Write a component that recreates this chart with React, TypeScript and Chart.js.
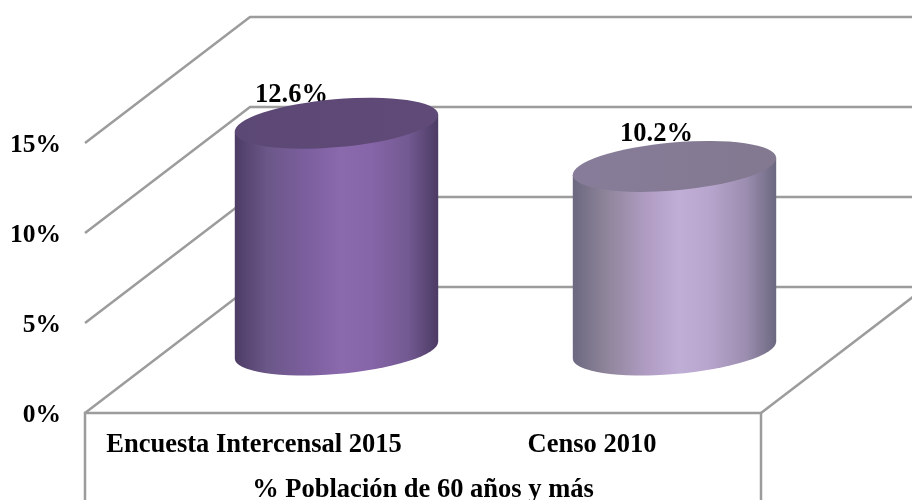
import React, { useEffect, useRef } from "react";
import { Chart, registerables } from "chart.js";

Chart.register(...registerables);

const categories = ["Encuesta Intercensal 2015", "Censo 2010"];
const values = [12.6, 10.2];
const axisTitle = "% Población de 60 años y más";
const yTicksMax = 15;
const yStep = 5;

const bodyStops = [
  ["#4d3c66", "#6b5788", "#7c5f9f", "#8a69ac", "#8765a9", "#735a92", "#4c3b64"],
  ["#6b6880", "#8e8499", "#b09cc3", "#bfaed6", "#b9a6cf", "#9c8eb0", "#6c6880"],
];
const stopPos = [0, 0.16, 0.36, 0.52, 0.66, 0.85, 1];
const topFill = [
  ["#5c4875", "#604a78"],
  ["#877d9a", "#82788f"],
];

const labelShiftX = [-45, -18];
const labelShiftY = [-28, -32];

const FONT = "'Liberation Serif', 'Times New Roman', serif";
const GRID = "#9c9c9c";
const DEPTH_X = 165;
const DEPTH_Y = 126;
const TILT = (-5 * Math.PI) / 180;
const MINOR = 24;

const scene = {
  id: "scene3d",
  beforeDatasetsDraw(chart: any) {
    const { ctx, chartArea, scales, width, height } = chart;
    const yS = scales.y;
    ctx.save();
    ctx.strokeStyle = GRID;
    ctx.lineWidth = 2.5;
    ctx.lineJoin = "miter";
    yS.ticks.forEach((t: any) => {
      const y = yS.getPixelForValue(t.value);
      ctx.beginPath();
      ctx.moveTo(chartArea.left, y);
      ctx.lineTo(chartArea.left + DEPTH_X, y - DEPTH_Y);
      ctx.lineTo(width + 2, y - DEPTH_Y);
      ctx.stroke();
    });
    const b = chartArea.bottom;
    ctx.beginPath();
    ctx.moveTo(chartArea.left, height + 2);
    ctx.lineTo(chartArea.left, b);
    ctx.lineTo(chartArea.right, b);
    ctx.lineTo(chartArea.right, height + 2);
    ctx.stroke();
    ctx.beginPath();
    ctx.moveTo(chartArea.right, b);
    ctx.lineTo(chartArea.right + DEPTH_X, b - DEPTH_Y);
    ctx.stroke();
    ctx.restore();
  },
  afterDatasetsDraw(chart: any) {
    const { ctx } = chart;
    const meta = chart.getDatasetMeta(0);
    meta.data.forEach((el: any, i: number) => {
      const props = el.getProps(["x", "y", "base", "width"], true);
      const cx = props.x + DEPTH_X / 2;
      const top = props.y - DEPTH_Y / 2;
      const base = props.base - DEPTH_Y / 2;
      const a = props.width / 2;
      const t0 = Math.atan((-MINOR / a) * Math.tan(TILT));
      const ex = a * Math.cos(t0) * Math.cos(TILT) - MINOR * Math.sin(t0) * Math.sin(TILT);
      const ey = a * Math.cos(t0) * Math.sin(TILT) + MINOR * Math.sin(t0) * Math.cos(TILT);

      ctx.save();
      ctx.font = `bold 26.5px ${FONT}`;
      ctx.fillStyle = "#000";
      ctx.textAlign = "center";
      ctx.textBaseline = "middle";
      ctx.fillText(values[i].toFixed(1) + "%", cx + labelShiftX[i], top + labelShiftY[i]);

      const grad = ctx.createLinearGradient(cx - ex, 0, cx + ex, 0);
      bodyStops[i].forEach((c, k) => grad.addColorStop(stopPos[k], c));
      ctx.fillStyle = grad;
      ctx.beginPath();
      ctx.moveTo(cx - ex, top - ey);
      ctx.lineTo(cx - ex, base - ey);
      ctx.ellipse(cx, base, a, MINOR, TILT, t0 + Math.PI, t0, true);
      ctx.lineTo(cx + ex, top + ey);
      ctx.closePath();
      ctx.fill();

      const tg = ctx.createLinearGradient(cx - ex, 0, cx + ex, 0);
      tg.addColorStop(0, topFill[i][0]);
      tg.addColorStop(1, topFill[i][1]);
      ctx.fillStyle = tg;
      ctx.beginPath();
      ctx.ellipse(cx, top, a, MINOR, TILT, 0, Math.PI * 2);
      ctx.fill();
      ctx.restore();
    });
  },
};

export default function App() {
  const ref = useRef<HTMLCanvasElement | null>(null);
  useEffect(() => {
    document.body.style.margin = "0";
    const chart = new Chart(ref.current as HTMLCanvasElement, {
      type: "bar",
      data: {
        labels: categories,
        datasets: [
          {
            data: values,
            backgroundColor: "rgba(0,0,0,0)",
            borderWidth: 0,
            categoryPercentage: 1,
            barPercentage: 0.604,
          },
        ],
      },
      options: {
        responsive: false,
        animation: false,
        events: [],
        layout: { padding: { top: 143, right: 151, left: 0, bottom: 0 } },
        plugins: { legend: { display: false }, tooltip: { enabled: false } },
        scales: {
          x: {
            afterFit: (s: any) => {
              s.height = 87;
            },
            grid: { display: false },
            border: { display: false },
            ticks: {
              padding: 8,
              color: "#000",
              maxRotation: 0,
              autoSkip: false,
              font: { family: FONT, size: 26.5, weight: "bold" },
            },
            title: {
              display: true,
              text: axisTitle,
              color: "#000",
              padding: { top: 0, bottom: -6 },
              font: { family: FONT, size: 26.5, weight: "bold" },
            },
          },
          y: {
            min: 0,
            max: yTicksMax,
            afterFit: (s: any) => {
              s.width = 85;
            },
            grid: { display: false },
            border: { display: false },
            ticks: {
              stepSize: yStep,
              padding: 16,
              labelOffset: 2,
              color: "#000",
              callback: (v: any) => v + "%",
              font: { family: FONT, size: 25.5, weight: "bold" },
            },
          },
        },
      },
      plugins: [scene],
    } as any);
    return () => chart.destroy();
  }, []);
  return <canvas ref={ref} width={912} height={500} style={{ display: "block" }} />;
}
